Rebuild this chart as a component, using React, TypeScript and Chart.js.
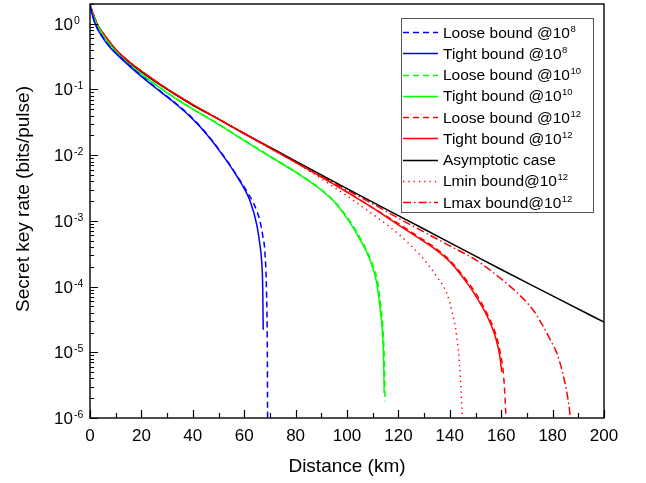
import React, { useEffect, useRef } from "react";
import { Chart, registerables } from "chart.js";
Chart.register(...registerables);

const FONT = '"Liberation Sans", Arial, sans-serif';

// ---- data (distance in km, secret key rate in bits/pulse) ----
const blueLooseKm = [0, 1, 2, 4.4, 8, 12.2, 18, 25.2, 32, 38.1, 43, 47.2, 50.6, 53.8, 57, 59.6, 61.5, 63.5, 65, 66.1, 67.2, 68.1, 68.7, 69.0, 69.1, 69.2];
const blueLooseRate = [1.86, 1.32, 1.0, 0.675, 0.436, 0.301, 0.188, 0.11, 0.0682, 0.0426, 0.0271, 0.0174, 0.0116, 0.00776, 0.005, 0.00347, 0.00263, 0.0019, 0.00138, 0.001, 6.03e-4, 3.16e-4, 7.94e-5, 1.07e-5, 1.26e-6, 5e-7];

const blueTightKm = [0, 1, 2, 4.4, 8, 12.2, 18, 25.2, 32, 38.1, 43, 47.2, 50.6, 53.8, 57, 59.6, 62.3, 64.9, 66, 66.8, 67.2, 67.4];
const blueTightRate = [1.86, 1.32, 1.0, 0.661, 0.427, 0.295, 0.184, 0.108, 0.0668, 0.0417, 0.0266, 0.017, 0.01135, 0.00759, 0.0049, 0.00331, 0.002, 8.7e-4, 4.68e-4, 2.4e-4, 1.0e-4, 2.2e-5];

const greenLooseKm = [0, 1, 2, 5, 10, 15, 20, 30, 40, 50, 60, 70, 80, 90, 95, 100, 105, 109.3, 112, 113.2, 114.1, 114.6, 114.8];
const greenLooseRate = [1.86, 1.41, 1.12, 0.68, 0.383, 0.247, 0.172, 0.0902, 0.0508, 0.0299, 0.0169, 0.0097, 0.0056, 0.003, 0.002, 0.00115, 5.62e-4, 2.51e-4, 1.12e-4, 4.9e-5, 1.95e-5, 6.0e-6, 1.78e-6];

const greenTightKm = [0, 1, 2, 5, 10, 15, 20, 30, 40, 50, 60, 70, 80, 90, 95, 100, 105, 109, 111.6, 112.8, 113.8, 114.3, 114.45];
const greenTightRate = [1.86, 1.41, 1.12, 0.676, 0.38, 0.245, 0.17, 0.0891, 0.0501, 0.0295, 0.0166, 0.00955, 0.0055, 0.00295, 0.00195, 0.0011, 5.25e-4, 2.51e-4, 1.12e-4, 4.9e-5, 1.95e-5, 6.0e-6, 2.4e-6];

const redLooseKm = [0, 1, 2, 3, 5, 7.5, 10, 15, 20, 30, 40, 50, 60, 70, 80, 90, 100, 110, 120, 127, 133.6, 140, 146.6, 151, 155.6, 158, 159.5, 160.8, 161.5, 161.9];
const redLooseRate = [1.95, 1.51, 1.175, 0.955, 0.724, 0.537, 0.407, 0.269, 0.191, 0.102, 0.0589, 0.0355, 0.0214, 0.0129, 0.00776, 0.00468, 0.00275, 0.00158, 9.12e-4, 6.03e-4, 4.07e-4, 2.51e-4, 1.23e-4, 6.92e-5, 3.16e-5, 1.82e-5, 1.05e-5, 5.01e-6, 2.0e-6, 8.9e-7];

const redTightKm = [0, 1, 2, 3, 5, 7.5, 10, 15, 20, 30, 40, 50, 60, 70, 80, 90, 100, 110, 120, 127, 133.6, 140, 146.6, 151, 155.6, 158, 159.5, 160.2];
const redTightRate = [1.95, 1.51, 1.175, 0.955, 0.724, 0.537, 0.407, 0.269, 0.191, 0.102, 0.0589, 0.0355, 0.0214, 0.0129, 0.00776, 0.00468, 0.00275, 0.00158, 8.71e-4, 5.75e-4, 3.89e-4, 2.4e-4, 1.15e-4, 6.31e-5, 2.88e-5, 1.58e-5, 8.51e-6, 5.01e-6];

const asymKm = [0, 1, 2, 3, 5, 7.5, 10, 15, 20, 30, 40, 50, 60, 70, 80, 100, 120, 140, 160, 180, 200];
const asymRate = [1.905, 1.479, 1.148, 0.933, 0.708, 0.525, 0.398, 0.263, 0.186, 0.1, 0.0575, 0.0355, 0.0214, 0.0132, 0.00813, 0.00309, 0.0012, 4.68e-4, 1.82e-4, 7.24e-5, 2.88e-5];

const lminKm = [0, 1, 2, 3, 5, 7.5, 10, 15, 20, 30, 40, 50, 60, 70, 80, 90, 100, 110, 120, 128.4, 135, 138.8, 141, 142.7, 143.8, 144.4, 144.8];
const lminRate = [1.95, 1.51, 1.175, 0.955, 0.724, 0.537, 0.407, 0.269, 0.191, 0.102, 0.0589, 0.0355, 0.0214, 0.0129, 0.00776, 0.00437, 0.0024, 0.00126, 6.31e-4, 3.02e-4, 1.41e-4, 7.94e-5, 3.98e-5, 1.74e-5, 6.31e-6, 2.51e-6, 1.12e-6];

const lmaxKm = [0, 1, 2, 3, 5, 7.5, 10, 15, 20, 30, 40, 50, 60, 70, 80, 90, 100, 110, 120, 130, 140, 150, 157, 165, 172.5, 175.1, 179, 182, 184, 185.5, 186.5, 187];
const lmaxRate = [1.95, 1.51, 1.175, 0.955, 0.724, 0.537, 0.407, 0.269, 0.191, 0.102, 0.0589, 0.0355, 0.0214, 0.0129, 0.00794, 0.0049, 0.00295, 0.00182, 0.0011, 6.76e-4, 4.17e-4, 2.57e-4, 1.62e-4, 8.91e-5, 4.37e-5, 3.02e-5, 1.58e-5, 8.91e-6, 4.68e-6, 2.51e-6, 1.41e-6, 8.9e-7];

// ---- ticks & labels ----
const xMajorTicks = [0, 20, 40, 60, 80, 100, 120, 140, 160, 180, 200];
const xMinorTicks = [10, 30, 50, 70, 90, 110, 130, 150, 170, 190];
const yDecadeExponents = [0, -1, -2, -3, -4, -5, -6];
const legendBase = [
  "Loose bound @10", "Tight bound @10", "Loose bound @10", "Tight bound @10",
  "Loose bound @10", "Tight bound @10", "Asymptotic case", "Lmin bound@10", "Lmax bound@10",
];
const legendSup = ["8", "8", "10", "10", "12", "12", "", "12", "12"];
const xTitle = "Distance (km)";
const yTitle = "Secret key rate (bits/pulse)";

const pts = (km: number[], r: number[]) => km.map((x, i) => ({ x, y: r[i] }));

const BLUE = "#0000ff";
const GREEN = "#00ff00";
const RED = "#ff0000";
const BLACK = "#000000";
const DASH = [6, 4];
const DOT = [1.3, 4];
const DASHDOT = [8, 3, 1.5, 3];

const framePlugin = {
  id: "frameAndLegend",
  afterDraw(chart: any) {
    const { ctx, chartArea: a, scales } = chart;
    const xs = scales.x;
    const ys = scales.y;
    ctx.save();
    ctx.setLineDash([]);
    ctx.strokeStyle = "#000";
    ctx.lineWidth = 1.4;
    ctx.strokeRect(a.left, a.top, a.right - a.left, a.bottom - a.top);

    ctx.lineWidth = 1.2;
    ctx.beginPath();
    for (const v of xMajorTicks) {
      const px = Math.round(xs.getPixelForValue(v)) + 0.5;
      ctx.moveTo(px, a.bottom);
      ctx.lineTo(px, a.bottom - 8);
    }
    for (const v of xMinorTicks) {
      const px = Math.round(xs.getPixelForValue(v)) + 0.5;
      ctx.moveTo(px, a.bottom);
      ctx.lineTo(px, a.bottom - 5);
    }
    for (const e of yDecadeExponents) {
      for (let m = 1; m <= 9; m++) {
        const v = m * Math.pow(10, e);
        if (v > ys.max * 1.0001 || v < ys.min * 0.9999) continue;
        const py = Math.round(ys.getPixelForValue(v)) + 0.5;
        ctx.moveTo(a.left, py);
        ctx.lineTo(a.left + (m === 1 ? 8 : 4), py);
      }
    }
    ctx.stroke();

    // y tick labels 10^e
    ctx.fillStyle = "#000";
    ctx.textAlign = "left";
    ctx.textBaseline = "alphabetic";
    for (const e of yDecadeExponents) {
      const py = ys.getPixelForValue(Math.pow(10, e));
      ctx.font = `17px ${FONT}`;
      ctx.fillText("10", 54, py + 6);
      const w = ctx.measureText("10").width;
      ctx.font = `10.5px ${FONT}`;
      ctx.fillText(String(e), 54 + w + 1, py);
    }

    // y title
    ctx.save();
    ctx.font = `19px ${FONT}`;
    ctx.translate(28.5, 199);
    ctx.rotate(-Math.PI / 2);
    ctx.textAlign = "center";
    ctx.fillText(yTitle, 0, 0);
    ctx.restore();

    // legend
    const lx = 401, ly = 18, lw = 192, lh = 194;
    ctx.fillStyle = "#fff";
    ctx.fillRect(lx, ly, lw, lh);
    ctx.strokeStyle = "#555";
    ctx.lineWidth = 1;
    ctx.strokeRect(lx + 0.5, ly + 0.5, lw, lh);
    chart.data.datasets.forEach((ds: any, i: number) => {
      const cy = 32 + i * 21.25;
      ctx.strokeStyle = ds.borderColor;
      ctx.lineWidth = 1.4;
      ctx.setLineDash(ds.borderDash || []);
      ctx.beginPath();
      ctx.moveTo(403, Math.round(cy) + 0.5);
      ctx.lineTo(438, Math.round(cy) + 0.5);
      ctx.stroke();
      ctx.setLineDash([]);
      ctx.fillStyle = "#000";
      ctx.font = `15.5px ${FONT}`;
      ctx.fillText(legendBase[i], 443, cy + 5.5);
      const w = ctx.measureText(legendBase[i]).width;
      if (legendSup[i]) {
        ctx.font = `9.5px ${FONT}`;
        ctx.fillText(legendSup[i], 443 + w + 0.5, cy - 0.5);
      }
    });
    ctx.restore();
  },
};

export default function App() {
  const ref = useRef<HTMLCanvasElement>(null);
  useEffect(() => {
    const canvas = ref.current;
    if (!canvas) return;
    const mk = (label: string, km: number[], r: number[], color: string, dash: number[]) => ({
      label,
      data: pts(km, r),
      borderColor: color,
      backgroundColor: color,
      borderWidth: 1.5,
      borderDash: dash,
      pointRadius: 0,
      fill: false,
      cubicInterpolationMode: "monotone" as const,
    });
    const chart = new Chart(canvas, {
      type: "line",
      data: {
        datasets: [
          mk(legendBase[0] + legendSup[0], blueLooseKm, blueLooseRate, BLUE, DASH),
          mk(legendBase[1] + legendSup[1], blueTightKm, blueTightRate, BLUE, []),
          mk(legendBase[2] + legendSup[2], greenLooseKm, greenLooseRate, GREEN, DASH),
          mk(legendBase[3] + legendSup[3], greenTightKm, greenTightRate, GREEN, []),
          mk(legendBase[4] + legendSup[4], redLooseKm, redLooseRate, RED, DASH),
          mk(legendBase[5] + legendSup[5], redTightKm, redTightRate, RED, []),
          mk(legendBase[6], asymKm, asymRate, BLACK, []),
          mk(legendBase[7] + legendSup[7], lminKm, lminRate, RED, DOT),
          mk(legendBase[8] + legendSup[8], lmaxKm, lmaxRate, RED, DASHDOT),
        ],
      },
      options: {
        animation: false,
        responsive: false,
        devicePixelRatio: 1,
        layout: { padding: { left: 0, top: 4, right: 42, bottom: 0 } },
        plugins: { legend: { display: false }, tooltip: { enabled: false } },
        scales: {
          x: {
            type: "linear",
            min: 0,
            max: 200,
            afterBuildTicks: (s: any) => {
              s.ticks = xMajorTicks.map((v) => ({ value: v }));
            },
            ticks: {
              font: { family: FONT, size: 17 },
              color: "#000",
              padding: 8,
              maxRotation: 0,
              autoSkip: false,
            },
            grid: { display: false, drawTicks: false },
            border: { display: false },
            title: {
              display: true,
              text: xTitle,
              font: { family: FONT, size: 19 },
              color: "#000",
              padding: { top: 0, bottom: 5 },
            },
            afterFit: (s: any) => {
              s.height = 65;
            },
          },
          y: {
            type: "logarithmic",
            min: 1e-6,
            max: 2,
            ticks: { display: false },
            grid: { display: false, drawTicks: false },
            border: { display: false },
            afterFit: (s: any) => {
              s.width = 90;
            },
          },
        },
      },
      plugins: [framePlugin],
    });
    return () => chart.destroy();
  }, []);
  return (
    <div style={{ position: "absolute", left: 0, top: 0, width: 646, height: 483, background: "#fff" }}>
      <canvas ref={ref} width={646} height={483} style={{ display: "block", width: 646, height: 483 }} />
    </div>
  );
}
